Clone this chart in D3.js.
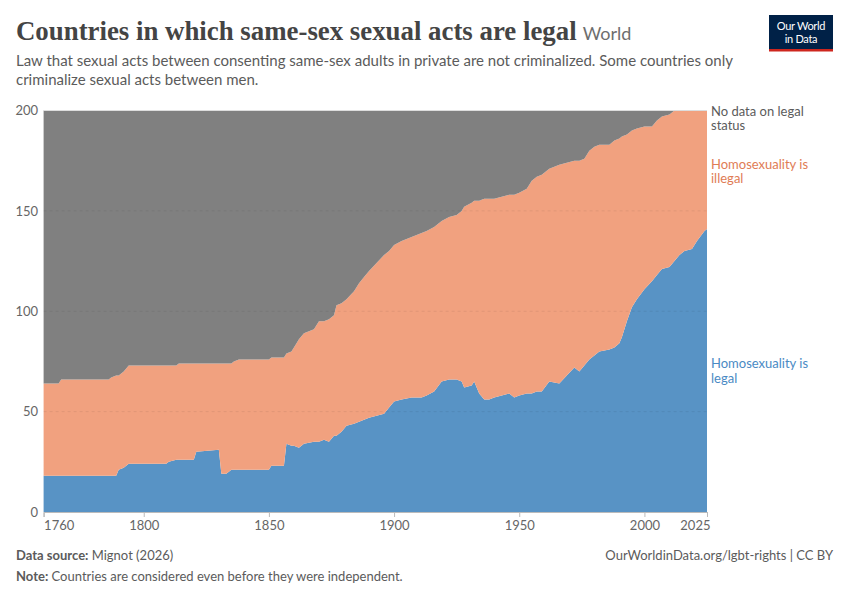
<!DOCTYPE html>
<html>
<head>
<meta charset="utf-8">
<script src="https://cdn.jsdelivr.net/npm/d3@7"></script>
<style>
  body { margin: 0; background: #fff; }
  svg { font-family: Lato, "Noto Sans", sans-serif; }
</style>
</head>
<body>
<svg width="850" height="600"></svg>
<script>
const years = [1760, 1766, 1767, 1786, 1787, 1789, 1790, 1792, 1794, 1809, 1810, 1813, 1814, 1820, 1821, 1830, 1831, 1833, 1835, 1836, 1838, 1850, 1851, 1856, 1857, 1859, 1860, 1862, 1864, 1868, 1870, 1872, 1874, 1876, 1877, 1879, 1881, 1884, 1886, 1888, 1890, 1893, 1896, 1898, 1900, 1903, 1907, 1911, 1913, 1916, 1919, 1922, 1925, 1927, 1928, 1931, 1932, 1934, 1936, 1938, 1940, 1943, 1946, 1948, 1950, 1953, 1955, 1957, 1959, 1962, 1966, 1969, 1972, 1974, 1976, 1978, 1980, 1982, 1986, 1988, 1990, 1991, 1993, 1995, 1997, 2000, 2003, 2005, 2007, 2010, 2012, 2014, 2016, 2019, 2021, 2024, 2025];
const legal = [18, 18, 18, 18, 18, 18, 21, 22, 24, 24, 25, 26, 26, 26, 30, 31, 19, 19, 21, 21, 21, 21, 23, 23, 34, 33, 33, 32, 34, 35, 35, 36, 35, 38, 38, 40, 43, 44, 45, 46, 47, 48, 49, 52, 55, 56, 57, 57, 58, 60, 65, 66, 66, 65, 62, 63, 65, 59, 56, 56, 57, 58, 59, 57, 58, 59, 59, 60, 60, 65, 64, 68, 72, 70, 73, 76, 78, 80, 81, 82, 84, 87, 95, 102, 106, 111, 115, 118, 121, 122, 125, 128, 130, 131, 135, 140, 141];
const illegal = [46, 46, 48, 48, 49, 50, 47, 48, 49, 49, 48, 47, 48, 48, 44, 43, 55, 55, 53, 54, 55, 55, 54, 54, 45, 47, 49, 54, 55, 56, 60, 59, 61, 60, 65, 64, 63, 66, 69, 71, 73, 76, 79, 78, 78, 79, 80, 82, 82, 82, 80, 81, 82, 85, 90, 91, 90, 96, 100, 100, 99, 99, 99, 101, 101, 102, 106, 107, 108, 106, 109, 106, 103, 105, 103, 104, 104, 103, 102, 103, 102, 100, 93, 88, 85, 81, 77, 77, 76, 76, 75, 72, 70, 69, 65, 60, 59];
const noData = [136, 136, 134, 134, 133, 132, 132, 130, 127, 127, 127, 127, 126, 126, 126, 126, 126, 126, 126, 125, 124, 124, 123, 123, 121, 120, 118, 114, 111, 109, 105, 105, 104, 102, 97, 96, 94, 90, 86, 83, 80, 76, 72, 70, 67, 65, 63, 61, 60, 58, 55, 53, 52, 50, 48, 46, 45, 45, 44, 44, 44, 43, 42, 42, 41, 39, 35, 33, 32, 29, 27, 26, 25, 25, 24, 20, 18, 17, 17, 15, 14, 13, 12, 10, 9, 8, 8, 5, 3, 2, 0, 0, 0, 0, 0, 0, 0];

const seriesKeys = ["legal", "illegal", "noData"];
const seriesColors = ["#5893c5", "#f1a17f", "#808080"];
const labelColors = ["#4a8ac4", "#e07c55", "#5b5b5b"];
const seriesLabels = [["Homosexuality is", "legal"], ["Homosexuality is", "illegal"], ["No data on legal", "status"]];
const labelAt = [71.7, 171, 197.4];
const xTicks = [1760, 1800, 1850, 1900, 1950, 2000, 2025];
const yTicks = [0, 50, 100, 150, 200];

const svg = d3.select("svg");

const rows = years.map((y, i) => ({ year: y, legal: legal[i], illegal: illegal[i], noData: noData[i] }));
const stacked = d3.stack().keys(seriesKeys)(rows);

const x = d3.scaleLinear().domain([1760, 2025]).range([43.6, 707]);
const yScale = d3.scaleLinear().domain([0, 200]).range([512, 110.5]);

const area = d3.area()
    .x(d => x(d.data.year))
    .y0(d => yScale(d[0]))
    .y1(d => yScale(d[1]));

svg.append("g")
    .selectAll("path")
    .data(stacked)
    .join("path")
    .attr("fill", (d, i) => seriesColors[i])
    .attr("d", area);

// grid on top, faint
svg.append("g")
    .selectAll("line")
    .data(yTicks.filter(t => t > 0))
    .join("line")
    .attr("x1", 43.6)
    .attr("x2", 707)
    .attr("y1", d => yScale(d))
    .attr("y2", d => yScale(d))
    .attr("stroke", d => d === 200 ? "#dddddd" : "rgba(0,0,0,0.07)")
    .attr("stroke-dasharray", d => d === 200 ? null : "3,3");

const yAxis = svg.append("g")
    .attr("transform", "translate(38,0)")
    .call(d3.axisLeft(yScale).tickValues(yTicks).tickSize(0).tickPadding(0));
yAxis.select(".domain").remove();
yAxis.selectAll("text")
    .attr("fill", "#666")
    .style("font-size", "13px")
    .style("font-family", "Lato");

const xAxis = svg.append("g")
    .attr("transform", "translate(0,512)")
    .call(d3.axisBottom(x).tickValues(xTicks).tickFormat(d3.format("d")).tickSize(5).tickPadding(4));
xAxis.select(".domain").attr("stroke", "#bbb");
xAxis.selectAll(".tick line").attr("stroke", "#bbb");
xAxis.selectAll("text")
    .attr("fill", "#666")
    .style("font-size", "13px")
    .style("font-family", "Lato")
    .attr("text-anchor", d => d === 1760 ? "start" : d === 2025 ? "end" : "middle")
    .attr("dx", d => d === 2025 ? 3 : 0);

seriesLabels.forEach((lines, i) => {
    const t = svg.append("text")
        .attr("x", 711)
        .attr("y", yScale(labelAt[i]))
        .attr("fill", labelColors[i])
        .style("font-size", "13px");
    lines.forEach((line, j) => {
        t.append("tspan").attr("x", 711).attr("dy", j === 0 ? 0 : 14.5).text(line);
    });
});

// header
const title = svg.append("text")
    .attr("x", 16)
    .attr("y", 40)
    .attr("fill", "#444")
    .style("font-family", "'Liberation Serif', 'DejaVu Serif', serif")
    .style("font-weight", "700")
    .style("font-size", "25px")
    .text("Countries in which same-sex sexual acts are legal");

// fit the title to the width it has in the original
const titleW0 = title.node().getComputedTextLength();
title.style("font-size", (25 * 561 / titleW0) + "px");
const titleW = title.node().getComputedTextLength();

svg.append("text")
    .attr("x", 16 + titleW + 6)
    .attr("y", 40)
    .attr("fill", "#6e6e6e")
    .style("font-size", "18px")
    .text("World");

svg.append("text")
    .attr("x", 16)
    .attr("y", 66)
    .attr("fill", "#5b5b5b")
    .style("font-size", "15px")
    .text("Law that sexual acts between consenting same-sex adults in private are not criminalized. Some countries only");
svg.append("text")
    .attr("x", 16)
    .attr("y", 85)
    .attr("fill", "#5b5b5b")
    .style("font-size", "15px")
    .text("criminalize sexual acts between men.");

const logo = svg.append("g").attr("transform", "translate(769,15)");
logo.append("rect").attr("width", 64).attr("height", 36).attr("fill", "#002147");
logo.append("rect").attr("y", 34).attr("width", 64).attr("height", 2.5).attr("fill", "#ce261e");
logo.append("text").attr("x", 32).attr("y", 15).attr("text-anchor", "middle")
    .attr("fill", "#fff").style("font-size", "11px").style("letter-spacing", "-0.3px").text("Our World");
logo.append("text").attr("x", 32).attr("y", 28).attr("text-anchor", "middle")
    .attr("fill", "#fff").style("font-size", "11px").style("letter-spacing", "-0.3px").text("in Data");

// footer
const src = svg.append("text").attr("x", 16).attr("y", 560).attr("fill", "#5b5b5b").style("font-size", "13px");
src.append("tspan").style("font-weight", "700").text("Data source:");
src.append("tspan").text(" Mignot (2026)");

svg.append("text").attr("x", 833).attr("y", 560).attr("text-anchor", "end")
    .attr("fill", "#5b5b5b").style("font-size", "13px")
    .text("OurWorldinData.org/lgbt-rights | CC BY");

const note = svg.append("text").attr("x", 16).attr("y", 581).attr("fill", "#5b5b5b").style("font-size", "13px");
note.append("tspan").style("font-weight", "700").text("Note:");
note.append("tspan").text(" Countries are considered even before they were independent.");
</script>
</body>
</html>
